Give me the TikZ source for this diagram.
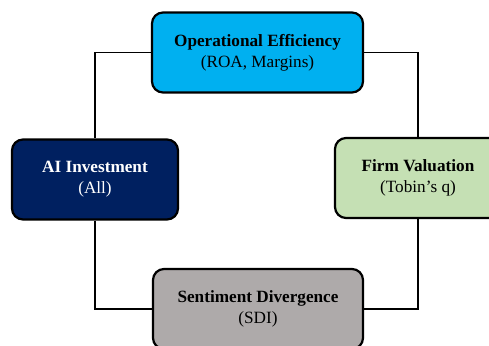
\documentclass[tikz,border=0pt]{standalone}
\usepackage{fontspec}
\setmainfont{Liberation Serif}
\usepackage{xcolor}
\usetikzlibrary{positioning}

\definecolor{effblue}{HTML}{00B0F0}
\definecolor{ainavy}{HTML}{002060}
\definecolor{valgreen}{HTML}{C5E0B4}
\definecolor{sdigray}{HTML}{AEAAAA}

\begin{document}
\begin{tikzpicture}[x=1pt, y=1pt, font=\fontsize{17.2}{21}\selectfont,
	box/.style={draw=black, line width=2.2pt, rounded corners=11pt, align=center,
		minimum height=80pt, inner sep=0pt},
	link/.style={draw=black, line width=1.9pt}]
	\useasboundingbox (0,0) rectangle (489,345);
	\clip (0,0) rectangle (489,345);
	% the four blocks
	\node[box, fill=effblue, minimum width=211pt] (eff) at (257.5,292.5)
	{\textbf{Operational Efficiency}\\(ROA, Margins)};
	\node[box, fill=ainavy, text=white, minimum width=166pt] (ai) at (95,165.5)
	{\textbf{AI Investment}\\(All)};
	\node[box, fill=valgreen, minimum width=166pt] (val) at (418,167)
	{\textbf{Firm Valuation}\\(Tobin's q)};
	\node[box, fill=sdigray, minimum width=210pt] (sdi) at (258,36)
	{\textbf{Sentiment Divergence}\\(SDI)};
	% loop connecting them
	\draw[link] (eff.west) -| (ai.north);
	\draw[link] (eff.east) -| (val.north);
	\draw[link] (ai.south) |- (sdi.west);
	\draw[link] (val.south) |- (sdi.east);
\end{tikzpicture}
\end{document}
